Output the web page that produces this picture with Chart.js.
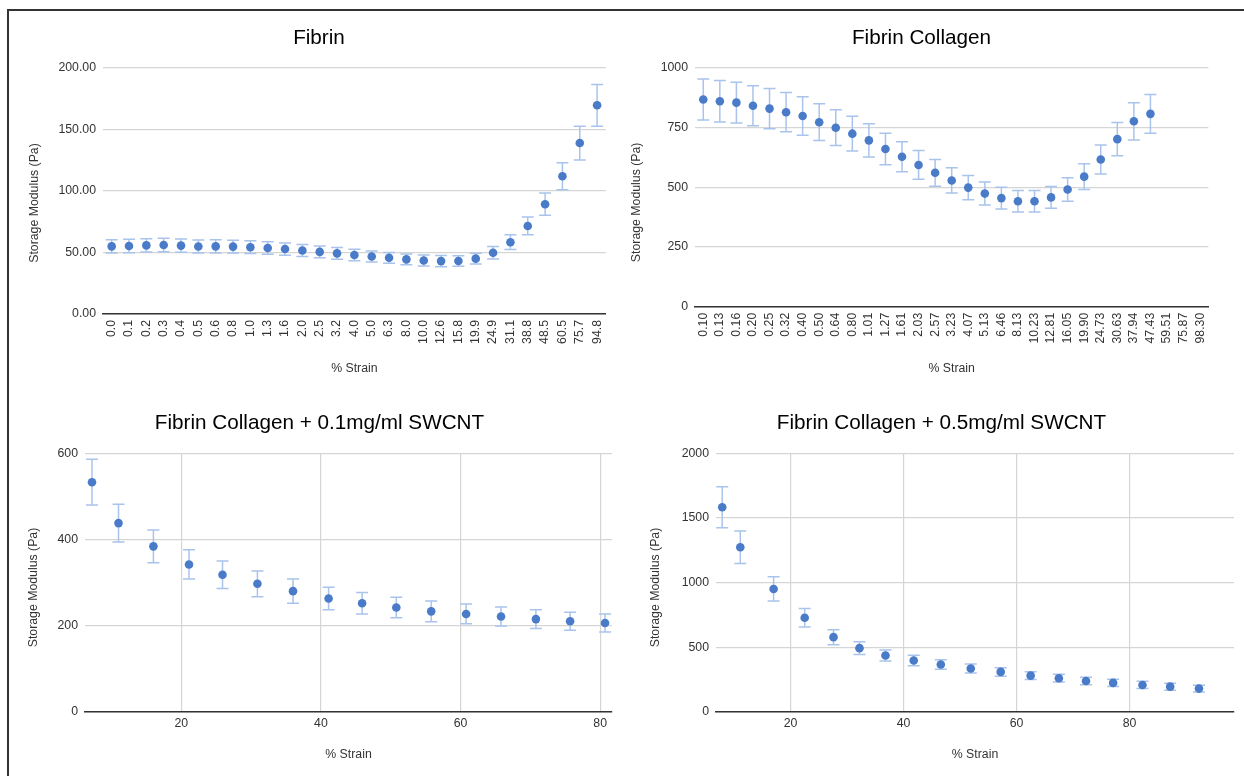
<!DOCTYPE html>
<html>
<head>
<meta charset="utf-8">
<script src="https://cdn.jsdelivr.net/npm/chart.js@4/dist/chart.umd.min.js"></script>
<style>
html,body{margin:0;padding:0;background:#fff;}
#page{position:relative;width:1244px;height:776px;overflow:hidden;background:#fff;}
#frame{position:absolute;left:7px;top:9px;width:1300px;height:800px;border-left:2px solid #333;border-top:2px solid #333;}
canvas{position:absolute;}
</style>
</head>
<body>
<div id="page">
<div id="frame"></div>
<canvas id="c1" width="590" height="372" style="left:28px;top:12px;width:590px;height:372px"></canvas>
<canvas id="c2" width="591" height="372" style="left:630px;top:12px;width:591px;height:372px"></canvas>
<canvas id="c3" width="591" height="374" style="left:27px;top:398px;width:591px;height:374px"></canvas>
<canvas id="c4" width="591" height="374" style="left:649px;top:398px;width:591px;height:374px"></canvas>
</div>
<script>
// ---------- DATA ----------
const fibrinStrain = ['0.0','0.1','0.2','0.3','0.4','0.5','0.6','0.8','1.0','1.3','1.6','2.0','2.5','3.2','4.0','5.0','6.3','8.0','10.0','12.6','15.8','19.9','24.9','31.1','38.8','48.5','60.5','75.7','94.8'];
const fibrinModulus = [55.0,55.3,55.8,56.1,55.6,54.9,55.0,54.8,54.3,53.7,52.8,51.6,50.5,49.3,48.0,46.7,45.7,44.4,43.5,43.0,43.1,45.0,49.8,58.4,71.6,89.3,112.0,139.0,169.7];
const fibrinError = [5.4,5.4,5.4,5.4,5.4,5.3,5.3,5.2,5.2,5.1,5.0,4.9,4.8,4.7,4.6,4.5,4.4,4.3,4.4,4.5,4.2,4.3,5.0,6.0,7.2,9.0,11.0,13.7,17.0];
const fibrinYTicks = [0,50,100,150,200];

const collagenStrain = ['0.10','0.13','0.16','0.20','0.25','0.32','0.40','0.50','0.64','0.80','1.01','1.27','1.61','2.03','2.57','3.23','4.07','5.13','6.46','8.13','10.23','12.81','16.05','19.90','24.73','30.63','37.94','47.43','59.51','75.87','98.30'];
const collagenModulus = [868,861,855,842,830,815,799,773,750,725,697,661,628,594,561,529,499,474,455,442,442,458,491,545,617,702,777,808,null,null,null];
const collagenError = [86,87,85,84,84,82,81,77,75,73,70,66,63,60,56,53,51,48,46,45,45,46,49,54,61,70,78,81,null,null,null];
const collagenYTicks = [0,250,500,750,1000];

const swcnt01Strain = [7.2,11.0,16.0,21.1,25.9,30.9,36.0,41.1,45.9,50.8,55.8,60.8,65.8,70.8,75.7,80.7];
const swcnt01Modulus = [533,438,384,342,318,297,280,263,252,242,233,227,221,215,210,206];
const swcnt01Error = [53,44,38,34,32,30,28,26,25,24,24,23,22,22,21,21];
const swcnt01YTicks = [0,200,400,600];

const swcnt05Strain = [7.9,11.1,17.0,22.5,27.6,32.2,36.8,41.8,46.6,51.9,57.2,62.5,67.5,72.3,77.1,82.3,87.2,92.3];
const swcnt05Modulus = [1583,1273,950,727,577,492,435,396,365,334,308,279,259,238,223,207,194,179];
const swcnt05Error = [159,126,94,72,58,49,43,41,37,35,33,30,30,29,28,28,27,26];
const swcnt05YTicks = [0,500,1000,1500,2000];

const swcntXTicks = [20,40,60,80];

// ---------- STYLE ----------
const FONT = '"Liberation Sans", Arial, Helvetica, sans-serif';
Chart.defaults.font.family = FONT;
Chart.defaults.color = '#333';
const POINT = '#4a7bc8';
const ERR = '#a9c4ec';
const GRID = '#d5d5d5';

const errorBarPlugin = {
  id: 'errorBars',
  beforeDatasetsDraw(chart) {
    const ctx = chart.ctx;
    const yScale = chart.scales.y;
    chart.data.datasets.forEach((ds, di) => {
      const errs = ds.errors;
      if (!errs) return;
      const meta = chart.getDatasetMeta(di);
      ctx.save();
      ctx.strokeStyle = ERR;
      ctx.lineWidth = 1.5;
      meta.data.forEach((pt, i) => {
        const raw = ds.data[i];
        const val = (raw !== null && typeof raw === 'object') ? raw.y : raw;
        if (val == null || errs[i] == null || !isFinite(pt.x)) return;
        const x = pt.x;
        const yt = yScale.getPixelForValue(val + errs[i]);
        const yb = yScale.getPixelForValue(val - errs[i]);
        ctx.beginPath();
        ctx.moveTo(x, yt); ctx.lineTo(x, yb);
        ctx.moveTo(x - 6, yt); ctx.lineTo(x + 6, yt);
        ctx.moveTo(x - 6, yb); ctx.lineTo(x + 6, yb);
        ctx.stroke();
      });
      ctx.restore();
    });
  }
};

// shifts only the drawn y-axis title downward (as placed in the reference)
function yTitleShift(dy) {
  return {
    id: 'yTitleShift',
    beforeDraw(chart) { const s = chart.scales.y; s.top += dy; s.bottom += dy; },
    afterDraw(chart) { const s = chart.scales.y; s.top -= dy; s.bottom -= dy; }
  };
}

function titleOpts(text, top, bottom) {
  return {display: true, text: text, color: '#000',
    font: {size: 20.7, weight: 'normal', lineHeight: 1.2},
    padding: {top: top, bottom: bottom}};
}

function yAxis(ticksArr, width, fmt) {
  return {
    min: ticksArr[0], max: ticksArr[ticksArr.length - 1],
    afterBuildTicks: s => { s.ticks = ticksArr.map(v => ({value: v})); },
    afterFit: s => { s.width = width; },
    ticks: {padding: 7, font: {size: 12.3}, color: '#333', callback: fmt},
    grid: {color: GRID, lineWidth: 1.2, drawTicks: false},
    border: {display: false},
    title: {display: true, text: 'Storage Modulus (Pa)', color: '#333',
      font: {size: 12.3, lineHeight: 1}, padding: 0}
  };
}

function xTitle(pb) {
  return {display: true, text: '% Strain', color: '#333',
    font: {size: 12.3, lineHeight: 1.2}, padding: {top: 0, bottom: pb}};
}

function categoryChart(id, title, labels, values, errors, yTicks, yWidth, xHeight, fmt, dy) {
  new Chart(document.getElementById(id), {
    type: 'line',
    data: {labels: labels, datasets: [{data: values, errors: errors, showLine: false,
      pointRadius: 4.3, pointHoverRadius: 4.3, pointBackgroundColor: POINT, pointBorderWidth: 0}]},
    options: {
      responsive: false, animation: false, devicePixelRatio: 1,
      layout: {padding: {left: 0, right: 8, top: 0, bottom: 0}},
      plugins: {legend: {display: false}, tooltip: {enabled: false},
        title: titleOpts(title, 14, 17.2)},
      scales: {
        x: {type: 'category', offset: true,
          afterFit: s => { s.height = xHeight; },
          grid: {display: false, drawTicks: false},
          border: {display: true, color: '#333', width: 1.5},
          ticks: {autoSkip: false, minRotation: 90, maxRotation: 90, padding: 6, font: {size: 12.3}, color: '#333'},
          title: xTitle(7.6)},
        y: yAxis(yTicks, yWidth, fmt)
      }
    },
    plugins: [errorBarPlugin, yTitleShift(dy)]
  });
}

function linearChart(id, title, xs, values, errors, yTicks, yWidth, xMin, xMax, dy) {
  new Chart(document.getElementById(id), {
    type: 'scatter',
    data: {datasets: [{data: xs.map((x, i) => ({x: x, y: values[i]})), errors: errors,
      pointRadius: 4.3, pointHoverRadius: 4.3, pointBackgroundColor: POINT, pointBorderWidth: 0}]},
    options: {
      responsive: false, animation: false, devicePixelRatio: 1,
      layout: {padding: {left: 0, right: 6, top: 0, bottom: 0}},
      plugins: {legend: {display: false}, tooltip: {enabled: false},
        title: titleOpts(title, 12.9, 17.6)},
      scales: {
        x: {type: 'linear', min: xMin, max: xMax,
          afterBuildTicks: s => { s.ticks = swcntXTicks.map(v => ({value: v})); },
          afterFit: s => { s.height = 60.3; },
          grid: {color: GRID, lineWidth: 1.2, drawTicks: false},
          border: {display: true, color: '#333', width: 1.5},
          ticks: {padding: 5, font: {size: 12.3}, color: '#333'},
          title: xTitle(9.6)},
        y: yAxis(yTicks, yWidth, v => String(v))
      }
    },
    plugins: [errorBarPlugin, yTitleShift(dy)]
  });
}

categoryChart('c1', 'Fibrin', fibrinStrain, fibrinModulus, fibrinError, fibrinYTicks, 75, 70, v => Number(v).toFixed(2), 12);
categoryChart('c2', 'Fibrin Collagen', collagenStrain, collagenModulus, collagenError, collagenYTicks, 65, 77.3, v => String(v), 15);
linearChart('c3', 'Fibrin Collagen + 0.1mg/ml SWCNT', swcnt01Strain, swcnt01Modulus, swcnt01Error, swcnt01YTicks, 58, 6.2, 81.7, 5);
linearChart('c4', 'Fibrin Collagen + 0.5mg/ml SWCNT', swcnt05Strain, swcnt05Modulus, swcnt05Error, swcnt05YTicks, 67, 6.8, 98.5, 5);
</script>
</body>
</html>
